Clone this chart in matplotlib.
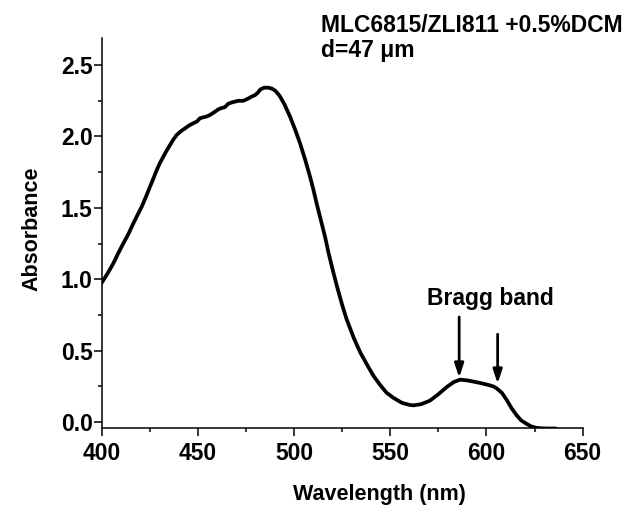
import matplotlib
matplotlib.use("Agg")
import matplotlib.pyplot as plt
from matplotlib.ticker import MultipleLocator

plt.rcParams['font.family'] = ['Liberation Sans', 'DejaVu Sans']

wavelength = [400, 403, 406, 408.5, 411.2, 414, 416.4, 418.6, 420.8, 423, 425.1, 427,
              428.6, 430.3, 432, 433.8, 435.5, 437.2, 439, 441, 443.3, 445.5, 447.6,
              449.5, 451.1, 453, 454.5, 456.3, 458.5, 460.6, 462.4, 464, 465.8, 468,
              471, 473.6, 476, 478, 479.7, 481, 482.5, 484.5, 486.6, 488.5, 490.3,
              492.5, 495, 497.9, 500.5, 503.1, 505.7, 508.3, 510, 511.7, 514, 516.1,
              518, 520, 522.1, 525, 527.3, 531, 534.3, 538, 541.2, 545, 548.1, 551.6,
              556, 560, 562, 566, 570.6, 575, 579.3, 583, 586.2, 590, 594.9, 598,
              601, 603.5, 605.3, 608, 610.5, 613, 615.7, 618, 620.9, 623.5, 626.1,
              629, 632, 636]
absorbance = [0.975, 1.04, 1.11, 1.18, 1.25, 1.32, 1.39, 1.45, 1.508, 1.578, 1.648, 1.71,
              1.765, 1.815, 1.858, 1.902, 1.940, 1.978, 2.011, 2.035, 2.057, 2.078, 2.093,
              2.105, 2.128, 2.135, 2.14, 2.151, 2.17, 2.19, 2.20, 2.205, 2.23, 2.24,
              2.25, 2.25, 2.265, 2.28, 2.29, 2.305, 2.33, 2.342, 2.342, 2.335, 2.32,
              2.285, 2.225, 2.139, 2.05, 1.952, 1.84, 1.718, 1.63, 1.532, 1.41, 1.297,
              1.18, 1.07, 0.96, 0.82, 0.72, 0.59, 0.49, 0.40, 0.325, 0.255, 0.205, 0.17,
              0.135, 0.12, 0.117, 0.125, 0.15, 0.195, 0.245, 0.28, 0.297, 0.292, 0.279, 0.27,
              0.26, 0.25, 0.236, 0.205, 0.155, 0.098, 0.047, 0.012, -0.013, -0.032, -0.041,
              -0.044, -0.045, -0.045]

arrow_x = [585.8, 605.8]
arrow_tip = [0.311, 0.269]
arrow_tail = [0.736, 0.615]

x_ticks = [400, 450, 500, 550, 600, 650]
y_ticks = [0.0, 0.5, 1.0, 1.5, 2.0, 2.5]

fig = plt.figure(figsize=(6.42, 5.05), dpi=100)
ax = fig.add_axes([0.1584, 0.1515, 0.7492, 0.7733])

ax.plot(wavelength, absorbance, color='black', lw=2.7, solid_capstyle='round',
        solid_joinstyle='round')

for xa, tip, tail in zip(arrow_x, arrow_tip, arrow_tail):
    ax.annotate('', xy=(xa, tip), xytext=(xa, tail),
                arrowprops=dict(arrowstyle='-|>,head_length=0.55,head_width=0.18',
                                lw=2.0, color='black', mutation_scale=15,
                                shrinkA=0, shrinkB=0))

ax.text(602.2, 0.823, 'Bragg band', ha='center', va='baseline',
        fontsize=16.5, fontweight='bold')

ax.set_xlim(400, 650)
ax.set_ylim(-0.045, 2.69)
ax.set_xticks(x_ticks)
ax.set_yticks(y_ticks)
ax.set_xticklabels([str(v) for v in x_ticks])
ax.set_yticklabels([f'{v:.1f}' for v in y_ticks])
ax.xaxis.set_minor_locator(MultipleLocator(25))
ax.yaxis.set_minor_locator(MultipleLocator(0.25))

for s in ['top', 'right']:
    ax.spines[s].set_visible(False)
for s in ['left', 'bottom']:
    ax.spines[s].set_linewidth(1.1)

ax.tick_params(axis='both', which='major', direction='out', length=5.5, width=1.1,
               labelsize=16.5, pad=2)
ax.tick_params(axis='both', which='minor', direction='out', length=3, width=1.1)
for lab in ax.get_xticklabels() + ax.get_yticklabels():
    lab.set_fontweight('bold')
ax.tick_params(axis='x', which='major', pad=4)
ax.tick_params(axis='y', which='major', pad=1)

ax.set_xlabel('Wavelength (nm)', fontsize=15.5, fontweight='bold', va='center')
ax.xaxis.set_label_coords(0.577, -0.168)
ax.set_ylabel('Absorbance', fontsize=15.5, fontweight='bold', va='center')
ax.yaxis.set_label_coords(-0.145, 0.511)

fig.text(0.4995, 0.9366, 'MLC6815/ZLI811 +0.5%DCM', ha='left', va='baseline',
         fontsize=16.5, fontweight='bold')
fig.text(0.4995, 0.8877, 'd=47 \u03bcm', ha='left', va='baseline',
         fontsize=16.5, fontweight='bold')

fig.savefig('out.png', dpi=100)
